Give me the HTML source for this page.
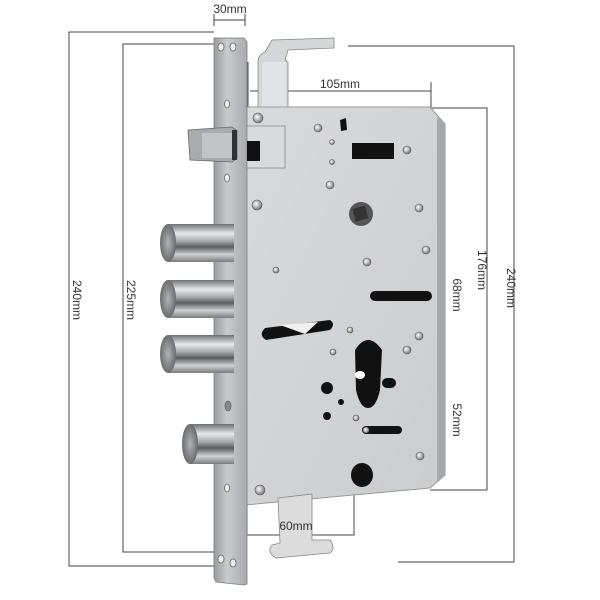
<!DOCTYPE html>
<html><head><meta charset="utf-8"><style>
html,body{margin:0;padding:0;background:#fff;}
svg{display:block;font-family:"Liberation Sans",sans-serif;}
</style></head><body>
<svg width="600" height="600" viewBox="0 0 600 600" xmlns="http://www.w3.org/2000/svg">
<defs>
<linearGradient id="plate" x1="0" x2="1" y1="0" y2="0">
<stop offset="0" stop-color="#9a9c9e"/><stop offset="0.4" stop-color="#c9cacc"/><stop offset="1" stop-color="#a8aaac"/>
</linearGradient>
<linearGradient id="body" x1="0" x2="1" y1="0" y2="1">
<stop offset="0" stop-color="#d9dadc"/><stop offset="1" stop-color="#cbcccE"/>
</linearGradient>
<linearGradient id="cyl" x1="0" x2="0" y1="0" y2="1">
<stop offset="0" stop-color="#6e7072"/><stop offset="0.25" stop-color="#e8e9ea"/><stop offset="0.45" stop-color="#a4a6a8"/><stop offset="0.6" stop-color="#5a5c5e"/><stop offset="0.8" stop-color="#d0d1d2"/><stop offset="1" stop-color="#7a7c7e"/>
</linearGradient>
<radialGradient id="cap" cx="0.5" cy="0.5" r="0.5">
<stop offset="0" stop-color="#b0b2b4"/><stop offset="1" stop-color="#6a6c6e"/>
</radialGradient>
<radialGradient id="scr" cx="0.4" cy="0.4" r="0.6">
<stop offset="0" stop-color="#fff"/><stop offset="1" stop-color="#777"/>
</radialGradient>
</defs>

<g stroke="#444" stroke-width="1" fill="none">
<polyline points="214,32 69,32 69,566 214,566"/>
<polyline points="214,44 123,44 123,552 214,552"/>
<line x1="214" y1="20" x2="245" y2="20"/><line x1="214" y1="14" x2="214" y2="26"/><line x1="245" y1="14" x2="245" y2="26"/>
<line x1="250" y1="91" x2="431" y2="91"/><line x1="248" y1="62" x2="248" y2="108"/><line x1="431" y1="82" x2="431" y2="107"/>
<polyline points="348,46 514,46 514,562 398,562"/>
<polyline points="430,108 487,108 487,490 430,490"/>
<polyline points="380,215 437,215 437,478 370,478"/>
<line x1="380" y1="365" x2="437" y2="365"/>
<polyline points="247,505 247,535 354,535 354,490"/>
</g>

<path d="M258,107 L258,62 Q258,55 265,52 L272,40 L334,38 L334,48 L288,50 L285,60 L288,62 L288,107 Z" fill="#d6d7d8" stroke="#888" stroke-width="0.8"/>
<rect x="262" y="62" width="24" height="45" fill="#e2e3e4"/>

<path d="M245,107 L430,107 L445,124 L445,475 L430,488 L245,505 Z" fill="url(#body)" stroke="#999" stroke-width="1"/>
<path d="M437,117 L445,124 L445,475 L437,482 Z" fill="#a6a8aa"/>

<path d="M278,498 L312,494 L312,540 L330,540 Q336,548 330,553 L276,558 Q266,552 272,545 L280,543 Z" fill="#dcdcdd" stroke="#888" stroke-width="0.8"/>

<path d="M214,38 L244,38 L247,42 L247,584 L244,585 L216,582 L214,578 Z" fill="url(#plate)" stroke="#7a7c7e" stroke-width="0.8"/>
<g fill="#eee" stroke="#666" stroke-width="0.8">
<ellipse cx="221" cy="47" rx="3" ry="4"/><ellipse cx="233" cy="47" rx="3" ry="4"/>
<ellipse cx="221" cy="559" rx="3" ry="4"/><ellipse cx="233" cy="563" rx="3" ry="4"/>
<ellipse cx="227" cy="104" rx="2.5" ry="4"/><ellipse cx="227" cy="178" rx="2.5" ry="4"/>
<ellipse cx="228" cy="406" rx="3" ry="5" fill="#888"/><ellipse cx="227" cy="488" rx="2.5" ry="4"/>
</g>

<path d="M188,130 L232,127 L237,131 L237,158 L232,162 L190,160 Z" fill="#a9abad" stroke="#666" stroke-width="0.8"/>
<rect x="202" y="133" width="30" height="25" fill="#c3c4c6"/>
<rect x="232" y="130" width="5" height="30" fill="#333"/>
<rect x="247" y="126" width="38" height="42" fill="#d9dadb" stroke="#888" stroke-width="0.8"/>
<rect x="247" y="141" width="13" height="20" fill="#111"/>

<g>
<rect x="168" y="224" width="66" height="38" fill="url(#cyl)"/><ellipse cx="168" cy="243" rx="8" ry="19" fill="url(#cap)"/>
<rect x="168" y="280" width="66" height="38" fill="url(#cyl)"/><ellipse cx="168" cy="299" rx="8" ry="19" fill="url(#cap)"/>
<rect x="168" y="335" width="66" height="38" fill="url(#cyl)"/><ellipse cx="168" cy="354" rx="8" ry="19" fill="url(#cap)"/>
<rect x="190" y="424" width="44" height="40" fill="url(#cyl)"/><ellipse cx="190" cy="444" rx="8" ry="20" fill="url(#cap)"/>
</g>

<g fill="#111">
<path d="M340,120 L346,118 L347,130 L341,131 Z"/>
<rect x="352" y="143" width="42" height="16"/>
<circle cx="361" cy="214" r="12" fill="#555"/><rect x="354" y="207" width="13" height="13" fill="#333" transform="rotate(-15 361 214)"/>
<rect x="370" y="291" width="62" height="10" rx="5"/>
<path d="M265,328 L330,320 Q336,324 330,330 L266,340 Q258,335 265,328 Z"/>
<path d="M355,350 Q368,330 382,350 L380,390 Q376,408 368,408 Q360,408 356,390 Z"/>
<rect x="382" y="378" width="14" height="10" rx="5"/>
<rect x="362" y="426" width="40" height="8" rx="4"/>
<ellipse cx="362" cy="475" rx="11" ry="12"/>
<circle cx="327" cy="388" r="6"/><circle cx="341" cy="402" r="3"/><circle cx="327" cy="416" r="4"/>
</g>
<path d="M280,325 L318,322 L305,334 Z" fill="#f0f0f0"/>
<ellipse cx="360" cy="375" rx="5" ry="4" fill="#fff"/>
<g fill="url(#scr)" stroke="#555" stroke-width="0.6">
<circle cx="258" cy="118" r="5"/><circle cx="318" cy="128" r="4"/><circle cx="330" cy="185" r="4"/><circle cx="407" cy="150" r="4"/>
<circle cx="257" cy="205" r="5"/><circle cx="419" cy="208" r="4"/><circle cx="426" cy="250" r="4"/><circle cx="367" cy="262" r="4"/>
<circle cx="276" cy="270" r="3"/><circle cx="419" cy="336" r="4"/><circle cx="350" cy="330" r="3"/><circle cx="333" cy="352" r="3"/>
<circle cx="407" cy="350" r="4"/><circle cx="356" cy="418" r="3"/><circle cx="420" cy="456" r="4"/><circle cx="260" cy="490" r="5"/>
<circle cx="366" cy="430" r="3"/><circle cx="332" cy="142" r="2.5"/><circle cx="332" cy="162" r="2.5"/>
</g>

<g fill="#333" font-size="12">
<text x="230" y="13" text-anchor="middle">30mm</text>
<text x="340" y="88" text-anchor="middle">105mm</text>
<text x="296" y="530" text-anchor="middle">60mm</text>
<text transform="translate(73,300) rotate(90)" text-anchor="middle">240mm</text>
<text transform="translate(127,300) rotate(90)" text-anchor="middle">225mm</text>
<text transform="translate(507,288) rotate(90)" text-anchor="middle">240mm</text>
<text transform="translate(478,270) rotate(90)" text-anchor="middle">176mm</text>
<text transform="translate(453,295) rotate(90)" text-anchor="middle">68mm</text>
<text transform="translate(453,420) rotate(90)" text-anchor="middle">52mm</text>
</g>
</svg>
</body></html>
